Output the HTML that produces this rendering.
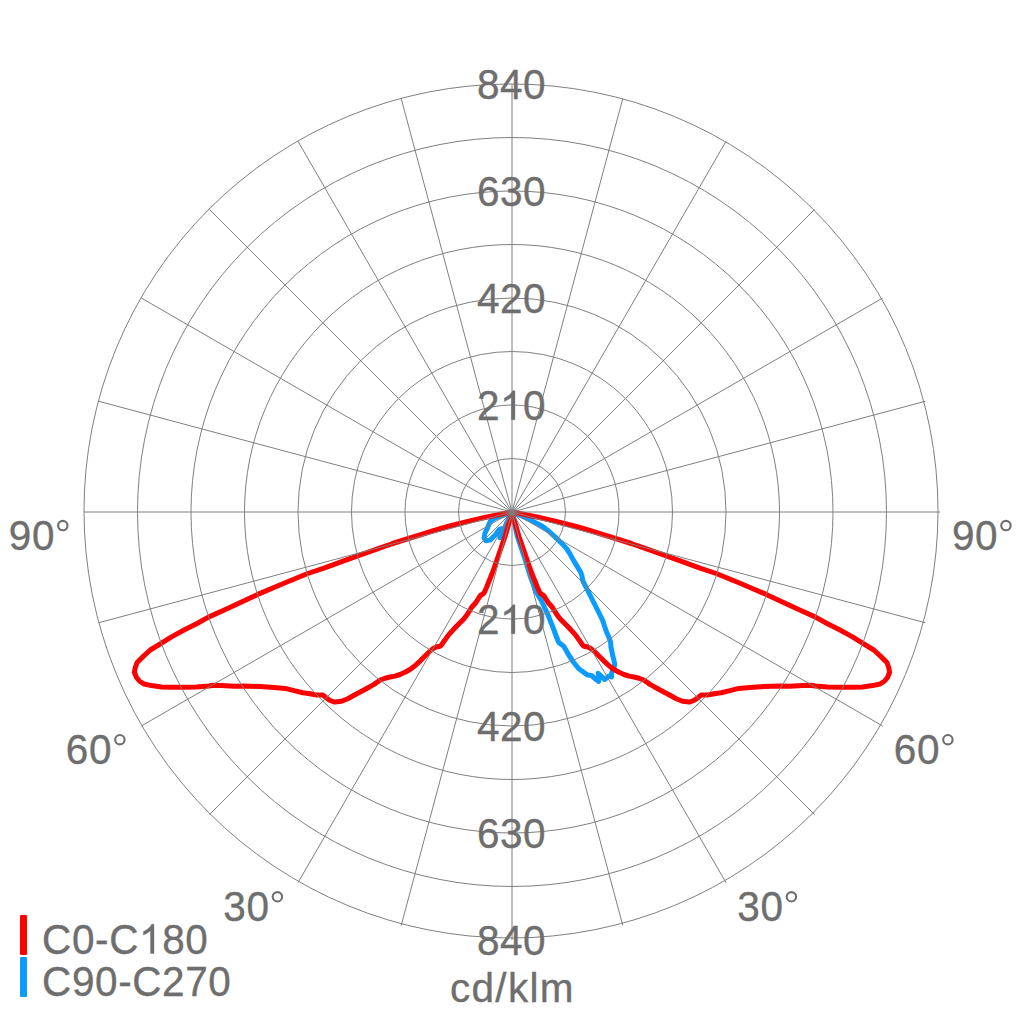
<!DOCTYPE html>
<html><head><meta charset="utf-8"><title>Polar diagram</title>
<style>html,body{margin:0;padding:0;background:#fff;width:1024px;height:1024px;overflow:hidden}svg{display:block}text{font-family:"Liberation Sans",sans-serif}</style>
</head><body>
<svg width="1024" height="1024" viewBox="0 0 1024 1024">
<rect width="1024" height="1024" fill="#fff"/>
<polyline points="512.00,512.00 503.00,515.40 495.20,517.90 490.30,521.30 487.40,528.10 485.00,533.00 484.00,537.90 485.90,540.80 490.30,539.90 495.20,535.00 499.10,529.60 501.60,528.60 501.00,533.00 500.10,537.90 502.00,536.90 504.00,531.00 506.00,524.20 512.00,512.00 517.20,536.00 525.30,560.00 530.20,576.00 536.20,592.00 541.25,600.50 547.50,613.75 552.50,626.25 556.25,636.25 558.75,642.50 563.75,646.25 568.75,655.00 573.75,662.50 578.80,668.80 584.00,672.60 587.75,675.10 591.50,675.40 595.25,678.90 598.70,681.40 598.80,677.00 598.10,673.25 600.90,675.75 604.60,679.50 609.00,676.00 611.50,677.00 611.50,673.25 613.20,668.50 614.60,665.75 614.60,663.25 613.40,658.25 612.10,652.60 610.90,647.00 610.60,642.00 609.00,637.60 606.50,632.00 602.50,620.00 597.50,610.00 592.50,600.00 587.50,590.00 583.60,582.50 582.60,580.00 581.90,575.40 580.40,571.60 577.25,566.60 573.50,560.40 569.75,553.50 566.00,547.90 561.00,542.60 554.75,536.60 548.50,531.00 542.25,526.30 536.00,522.90 529.00,519.30 522.75,516.40 512.00,512.00" fill="none" stroke="#0a9bff" stroke-width="5" stroke-linejoin="round" stroke-linecap="round"/>
<polyline points="512.00,512.00 526.00,514.70 541.50,518.00 554.00,520.90 566.50,524.00 579.00,527.25 591.50,531.00 604.00,535.00 616.50,538.75 632.00,543.75 648.00,549.40 665.60,555.70 683.00,561.90 700.00,568.10 716.90,573.75 741.25,583.75 766.25,594.40 790.00,605.60 802.50,611.25 815.00,616.90 827.50,623.75 840.00,630.00 852.50,636.90 862.50,643.10 873.75,650.00 881.25,656.90 886.90,662.50 888.75,667.50 889.60,672.25 887.50,677.50 884.40,681.25 880.00,684.00 872.50,685.60 862.50,686.90 852.50,687.25 840.00,687.25 827.50,686.90 815.00,686.00 811.25,685.25 802.50,685.60 790.00,686.30 780.00,686.00 763.75,686.60 750.00,687.50 738.75,688.40 730.00,690.60 721.25,692.75 713.75,693.70 707.50,695.00 701.25,694.90 698.10,697.50 694.40,700.25 689.40,702.10 682.50,701.25 676.25,698.75 670.00,695.30 660.00,690.00 650.00,684.40 643.40,679.80 639.00,678.25 634.00,677.00 629.00,676.10 624.00,674.50 619.00,672.30 614.00,669.50 609.00,665.75 604.00,661.10 599.00,656.10 594.60,651.70 590.90,648.60 587.75,647.00 584.00,646.20 582.80,645.40 580.00,641.25 575.00,634.40 567.50,626.25 560.00,618.75 556.25,613.75 552.50,607.50 548.10,602.50 543.75,595.60 540.00,593.10 537.50,587.50 531.50,572.50 525.80,556.25 522.30,546.00 518.80,536.00 515.30,524.00 512.00,512.00 498.00,514.70 482.50,518.00 470.00,520.90 457.50,524.00 445.00,527.25 432.50,531.00 420.00,535.00 407.50,538.75 392.00,543.75 376.00,549.40 358.40,555.70 341.00,561.90 324.00,568.10 307.10,573.75 282.75,583.75 257.75,594.40 234.00,605.60 221.50,611.25 209.00,616.90 196.50,623.75 184.00,630.00 171.50,636.90 161.50,643.10 150.25,650.00 142.75,656.90 137.10,662.50 135.25,667.50 134.40,672.25 136.50,677.50 139.60,681.25 144.00,684.00 151.50,685.60 161.50,686.90 171.50,687.25 184.00,687.25 196.50,686.90 209.00,686.00 212.75,685.25 221.50,685.60 234.00,686.30 244.00,686.00 260.25,686.60 274.00,687.50 285.25,688.40 294.00,690.60 302.75,692.75 310.25,693.70 316.50,695.00 322.75,694.90 325.90,697.50 329.60,700.25 334.60,702.10 341.50,701.25 347.75,698.75 354.00,695.30 364.00,690.00 374.00,684.40 380.60,679.80 385.00,678.25 390.00,677.00 395.00,676.10 400.00,674.50 405.00,672.30 410.00,669.50 415.00,665.75 420.00,661.10 425.00,656.10 429.40,651.70 433.10,648.60 436.25,647.00 440.00,646.20 441.20,645.40 444.00,641.25 449.00,634.40 456.50,626.25 464.00,618.75 467.75,613.75 471.50,607.50 475.90,602.50 480.25,595.60 484.00,593.10 486.50,587.50 492.50,572.50 498.20,556.25 501.70,546.00 505.20,536.00 508.70,524.00 512.00,512.00" fill="none" stroke="#ff0000" stroke-width="5" stroke-linejoin="round" stroke-linecap="round"/>
<g fill="none" stroke="#7f7f7f" stroke-width="1">
<circle cx="512" cy="512" r="53.5"/>
<circle cx="512" cy="512" r="107.0"/>
<circle cx="512" cy="512" r="160.5"/>
<circle cx="512" cy="512" r="214.0"/>
<circle cx="512" cy="512" r="267.5"/>
<circle cx="512" cy="512" r="321.0"/>
<circle cx="512" cy="512" r="374.5"/>
<circle cx="511" cy="511" r="427"/>
<line x1="512.00" y1="84.00" x2="512.00" y2="940.00"/>
<line x1="401.23" y1="98.58" x2="622.77" y2="925.42"/>
<line x1="298.00" y1="141.34" x2="726.00" y2="882.66"/>
<line x1="209.36" y1="209.36" x2="814.64" y2="814.64"/>
<line x1="141.34" y1="298.00" x2="882.66" y2="726.00"/>
<line x1="98.58" y1="401.23" x2="925.42" y2="622.77"/>
<line x1="84.00" y1="512.00" x2="940.00" y2="512.00"/>
<line x1="98.58" y1="622.77" x2="925.42" y2="401.23"/>
<line x1="141.34" y1="726.00" x2="882.66" y2="298.00"/>
<line x1="209.36" y1="814.64" x2="814.64" y2="209.36"/>
<line x1="298.00" y1="882.66" x2="726.00" y2="141.34"/>
<line x1="401.23" y1="925.42" x2="622.77" y2="98.58"/>
</g>
<g font-family="Liberation Sans, sans-serif" font-size="40.5" fill="#6e6e6e" stroke="#6e6e6e" stroke-width="0.35">
<text transform="translate(8.75,549.9) scale(1,1.043)" letter-spacing="0.7">90</text>
<circle cx="62.80" cy="525.60" r="4.7" fill="none" stroke-width="2.1"/>
<text transform="translate(951.9,549.9) scale(1,1.043)" letter-spacing="0.7">90</text>
<circle cx="1005.95" cy="525.60" r="4.7" fill="none" stroke-width="2.1"/>
<text transform="translate(65.83,764.0) scale(1,1.05)" letter-spacing="0.7">60</text>
<circle cx="119.88" cy="739.70" r="4.7" fill="none" stroke-width="2.1"/>
<text transform="translate(893.83,764.0) scale(1,1.05)" letter-spacing="0.7">60</text>
<circle cx="947.88" cy="739.70" r="4.7" fill="none" stroke-width="2.1"/>
<text transform="translate(223.35,921.1) scale(1,1.05)" letter-spacing="0.7">30</text>
<circle cx="277.40" cy="896.80" r="4.7" fill="none" stroke-width="2.1"/>
<text transform="translate(737.35,921.1) scale(1,1.05)" letter-spacing="0.7">30</text>
<circle cx="791.40" cy="896.80" r="4.7" fill="none" stroke-width="2.1"/>
<g transform="translate(42.1,953.5) scale(1,1.0345)"><text x="0.00 29.86 52.99 67.08 96.94 120.07 143.20" xml:space="preserve">C0-C 80</text><path d="M763 0H583V1147Q518 1085 412.5 1023T223 930V1104Q373 1175 486 1275.5T646 1472H763Z" transform="translate(96.94,0) scale(0.0196,-0.0192)" stroke-width="17.9"/></g>
<text transform="translate(42.1,995.5) scale(1,1.0345)" letter-spacing="0.593">C90-C270</text>
<text transform="translate(450.0,1001.9) scale(1,0.99)" letter-spacing="1.3">cd/klm</text>
<text transform="translate(476.9,98.8) scale(1,1.0276)" letter-spacing="0.57">840</text>
<text transform="translate(476.9,205.8) scale(1,1.0276)" letter-spacing="0.57">630</text>
<text transform="translate(476.9,312.8) scale(1,1.0276)" letter-spacing="0.57">420</text>
<g transform="translate(476.9,419.8) scale(1,1.0276)"><text x="0.00 23.09 46.19" xml:space="preserve">2 0</text><path d="M763 0H583V1147Q518 1085 412.5 1023T223 930V1104Q373 1175 486 1275.5T646 1472H763Z" transform="translate(23.09,0) scale(0.0196,-0.0192)" stroke-width="17.9"/></g>
<g transform="translate(476.9,633.8) scale(1,1.0276)"><text x="0.00 23.09 46.19" xml:space="preserve">2 0</text><path d="M763 0H583V1147Q518 1085 412.5 1023T223 930V1104Q373 1175 486 1275.5T646 1472H763Z" transform="translate(23.09,0) scale(0.0196,-0.0192)" stroke-width="17.9"/></g>
<text transform="translate(476.9,740.8) scale(1,1.0276)" letter-spacing="0.57">420</text>
<text transform="translate(476.9,847.8) scale(1,1.0276)" letter-spacing="0.57">630</text>
<text transform="translate(476.9,954.8) scale(1,1.0276)" letter-spacing="0.57">840</text>
</g>
<rect x="20" y="915" width="7" height="40" rx="1.2" fill="#ff0000"/>
<rect x="20" y="957" width="7" height="40" rx="1.2" fill="#0a9bff"/>
</svg>
</body></html>
